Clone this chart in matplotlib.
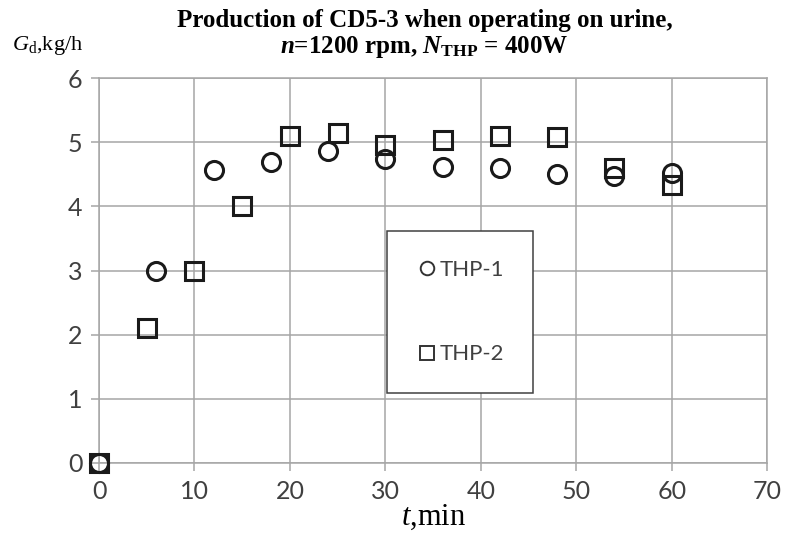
import matplotlib.pyplot as plt

# data
t_thp1 = [0, 6, 12, 18, 24, 30, 36, 42, 48, 54, 60]
g_thp1 = [0, 3.0, 4.57, 4.70, 4.86, 4.74, 4.61, 4.60, 4.51, 4.47, 4.52]
t_thp2 = [0, 5, 10, 15, 20, 25, 30, 36, 42, 48, 54, 60]
g_thp2 = [0, 2.10, 3.0, 4.0, 5.10, 5.15, 4.96, 5.04, 5.10, 5.09, 4.60, 4.33]

x_ticks = [0, 10, 20, 30, 40, 50, 60, 70]
y_ticks = [0, 1, 2, 3, 4, 5, 6]

grid_c = '#a6a6a6'
tick_c = '#404040'
serif = 'Liberation Serif'
sans = 'Lato'

plt.rcParams['mathtext.fontset'] = 'custom'
plt.rcParams['mathtext.rm'] = 'Liberation Serif'
plt.rcParams['mathtext.it'] = 'Liberation Serif:italic'
plt.rcParams['mathtext.bf'] = 'Liberation Serif:bold'
plt.rcParams['mathtext.bfit'] = 'Liberation Serif:italic:bold'

fig = plt.figure(figsize=(7.86, 5.51), dpi=100)
ax = fig.add_axes([0.126, 0.160, 0.850, 0.698])

ax.plot(t_thp1, g_thp1, linestyle='none', marker='o', markersize=13,
        markerfacecolor='none', markeredgecolor='#1a1a1a', markeredgewidth=2.2,
        label='THP-1', zorder=3, clip_on=False)
ax.plot(t_thp2, g_thp2, linestyle='none', marker='s', markersize=13,
        markerfacecolor='none', markeredgecolor='#1a1a1a', markeredgewidth=2.2,
        label='THP-2', zorder=3, clip_on=False)

ax.set_xlim(0, 70)
ax.set_ylim(0, 6)
ax.set_xticks(x_ticks)
ax.set_yticks(y_ticks)
ax.grid(True, color=grid_c, linewidth=1.1)
ax.set_axisbelow(True)
for s in ax.spines.values():
    s.set_color(grid_c)
    s.set_linewidth(1.1)
ax.tick_params(colors=grid_c, length=6, width=1.1, labelcolor=tick_c, labelsize=18, pad=6)
for lab in ax.get_xticklabels() + ax.get_yticklabels():
    lab.set_fontfamily(sans)

ax.set_xlabel(r'$t$,min', fontsize=22, fontfamily=serif, labelpad=0)
fig.text(0.015, 0.918, r'$G_{\rm d}$,kg/h', fontsize=16, fontfamily=serif,
         ha='left', va='center')

fig.text(0.54, 0.962, 'Production of CD5-3 when operating on urine,', fontsize=18,
         fontfamily=serif, fontweight='bold', ha='center', va='center')
fig.text(0.54, 0.915, r'$\mathbfit{n}$=1200 rpm, $\mathbfit{N}_{\mathbf{THP}}$ = 400W',
         fontsize=18, fontfamily=serif, fontweight='bold', ha='center', va='center')

leg = ax.legend(loc='center', bbox_to_anchor=(37.85, 2.35), bbox_transform=ax.transData,
                prop={'family': sans, 'size': 16}, labelspacing=2.9, borderpad=1.3,
                handletextpad=0.05, handlelength=1.0, markerscale=0.75,
                fancybox=False, framealpha=1, edgecolor='#404040', borderaxespad=0)
leg.get_frame().set_linewidth(1.1)
for h in leg.legend_handles:
    h.set_markeredgewidth(1.4)
    h.set_markeredgecolor('#333333')
for t in leg.get_texts():
    t.set_color(tick_c)

fig.savefig('out.png', dpi=100)
